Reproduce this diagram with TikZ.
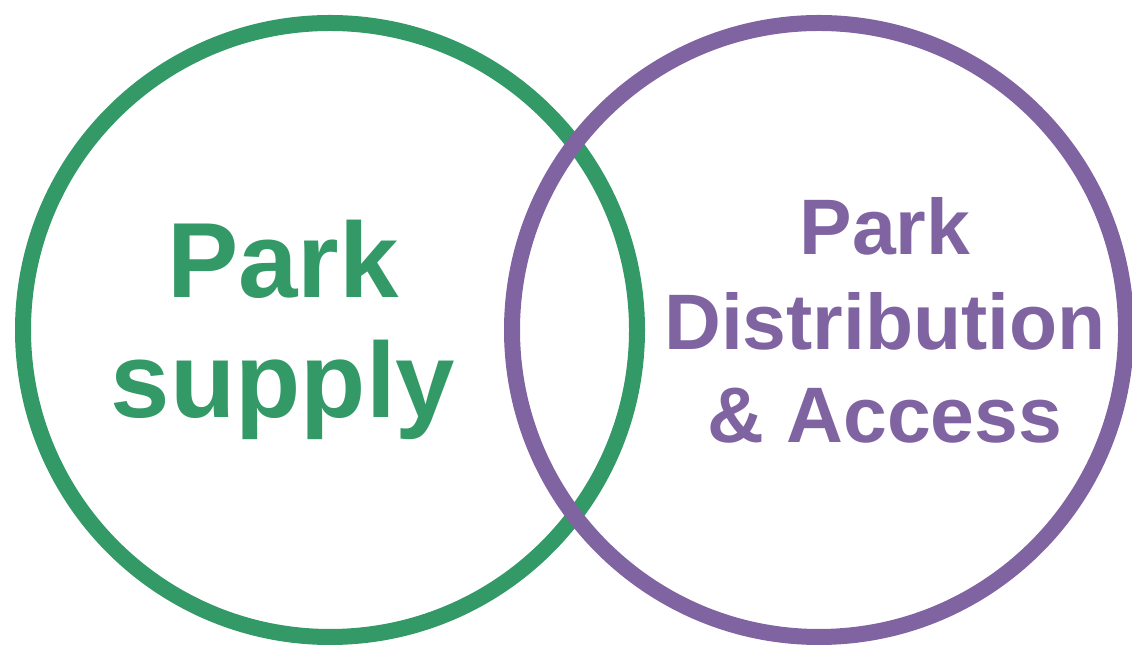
\documentclass[tikz,border=0pt]{standalone}
\usepackage{fontspec}
\setmainfont{Liberation Sans}
\definecolor{SupplyGreen}{HTML}{339966}
\definecolor{AccessPurple}{HTML}{8064A2}

\begin{document}
\begin{tikzpicture}[font=\bfseries]
\path[use as bounding box] (0,0) rectangle (28.3,16.15);
\draw[SupplyGreen,line width=0.4cm] (8.25,7.9) circle (7.675);
\draw[AccessPurple,line width=0.4cm] (20.475,7.9) circle (7.675);
\node[anchor=base,text=SupplyGreen,font=\fontsize{76}{90}\selectfont\bfseries]
      (supA) at (7.075,8.7) {Park};
\node[anchor=base,text=SupplyGreen,font=\fontsize{76}{90}\selectfont\bfseries]
      (supB) at (7.075,5.7) {supply};
\node[anchor=base,text=AccessPurple,font=\fontsize{56}{66}\selectfont\bfseries]
      (accA) at (22.125,9.775) {Park};
\node[anchor=base,text=AccessPurple,font=\fontsize{56}{66}\selectfont\bfseries]
      (accB) at (22.125,7.4) {Distribution};
\node[anchor=base,text=AccessPurple,font=\fontsize{56}{66}\selectfont\bfseries]
      (accC) at (22.125,5.075) {\& Access};
\end{tikzpicture}
\end{document}
